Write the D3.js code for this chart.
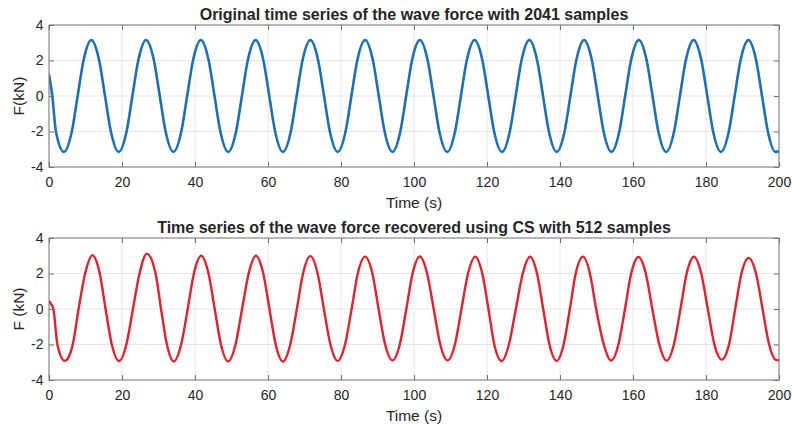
<!doctype html>
<html>
<head>
<meta charset="utf-8">
<title>Wave force time series</title>
<script src="https://d3js.org/d3.v7.min.js"></script>
<style>
  body { margin: 0; background: #fff; }
  text { font-family: "Liberation Sans", Arial, sans-serif; fill: #262626; }
</style>
</head>
<body>
<script>
// values (time in s, force in kN):
// troughs, -2 / 0 / +2 crossings and crests of every cycle
var origTime = [0, 0.9, 1.9,
  4.1, 6.25, 7.85, 9.45, 11.6, 13.75, 15.35, 16.95,
  19.1, 21.25, 22.85, 24.45, 26.6, 28.75, 30.35, 31.95,
  34.1, 36.25, 37.85, 39.45, 41.6, 43.75, 45.35, 46.95,
  49.1, 51.25, 52.85, 54.45, 56.6, 58.75, 60.35, 61.95,
  64.1, 66.25, 67.85, 69.45, 71.6, 73.75, 75.35, 76.95,
  79.1, 81.25, 82.85, 84.45, 86.6, 88.75, 90.35, 91.95,
  94.1, 96.25, 97.85, 99.45, 101.6, 103.75, 105.35, 106.95,
  109.1, 111.25, 112.85, 114.45, 116.6, 118.75, 120.35, 121.95,
  124.1, 126.25, 127.85, 129.45, 131.6, 133.75, 135.35, 136.95,
  139.1, 141.25, 142.85, 144.45, 146.6, 148.75, 150.35, 151.95,
  154.1, 156.25, 157.85, 159.45, 161.6, 163.75, 165.35, 166.95,
  169.1, 171.25, 172.85, 174.45, 176.6, 178.75, 180.35, 181.95,
  184.1, 186.25, 187.85, 189.45, 191.6, 193.75, 195.35, 196.95,
  199.0, 200];
var origForce = [1.22, 0, -2.0,
  -3.15, -2, 0, 2, 3.15, 2, 0, -2,
  -3.15, -2, 0, 2, 3.15, 2, 0, -2,
  -3.15, -2, 0, 2, 3.15, 2, 0, -2,
  -3.15, -2, 0, 2, 3.15, 2, 0, -2,
  -3.15, -2, 0, 2, 3.15, 2, 0, -2,
  -3.15, -2, 0, 2, 3.15, 2, 0, -2,
  -3.15, -2, 0, 2, 3.15, 2, 0, -2,
  -3.15, -2, 0, 2, 3.15, 2, 0, -2,
  -3.15, -2, 0, 2, 3.15, 2, 0, -2,
  -3.15, -2, 0, 2, 3.15, 2, 0, -2,
  -3.15, -2, 0, 2, 3.15, 2, 0, -2,
  -3.15, -2, 0, 2, 3.15, 2, 0, -2,
  -3.15, -2, 0, 2, 3.15, 2, 0, -2,
  -3.15, -3.12];

var csTime = [0, 0.5, 1.2, 2.3,
  4.3, 5.9, 6.5, 8.1, 9.9, 11.9, 13.9, 15.5, 17.2,
  19.2, 21.2, 23.0, 24.8, 26.8, 29.2, 30.7, 32.3,
  34.2, 36.2, 38.0, 39.7, 41.7, 43.7, 45.4, 47.1,
  49.1, 51.1, 52.9, 54.7, 56.7, 58.7, 60.4, 62.1,
  64.1, 66.1, 67.9, 69.6, 71.6, 73.6, 75.3, 77.1,
  79.1, 81.1, 82.9, 84.6, 86.6, 88.6, 90.3, 92.1,
  94.1, 96.1, 97.9, 99.6, 101.6, 103.6, 105.4, 107.2,
  109.2, 111.2, 113.0, 114.8, 116.8, 118.7, 120.4, 122.0,
  124.0, 126.0, 127.9, 129.8, 131.8, 133.7, 135.4, 137.1,
  139.1, 141.0, 142.7, 144.3, 146.3, 148.2, 149.9, 152.0,
  154.0, 156.0, 157.8, 159.5, 161.5, 163.5, 165.3, 167.2,
  169.2, 171.2, 173.0, 174.7, 176.7, 178.7, 180.5, 182.3,
  184.3, 186.3, 188.0, 189.7, 191.7, 193.7, 195.5, 197.3,
  199.3, 200];
var csForce = [0.45, 0.3, 0, -2,
  -2.92, -2.45, -2, 0, 2, 3.03, 2, 0, -2,
  -2.93, -2, 0, 2, 3.12, 2, 0, -2,
  -2.95, -2, 0, 2, 3.0, 2, 0, -2,
  -2.95, -2, 0, 2, 3.0, 2, 0, -2,
  -2.96, -2, 0, 2, 2.98, 2, 0, -2,
  -2.92, -2, 0, 2, 2.95, 2, 0, -2,
  -2.9, -2, 0, 2, 2.96, 2, 0, -2,
  -2.9, -2, 0, 2, 2.95, 2, 0, -2,
  -2.93, -2, 0, 2, 2.94, 2, 0, -2,
  -2.92, -2, 0, 2, 2.95, 2, 0, -2,
  -2.9, -2, 0, 2, 2.93, 2, 0, -2,
  -2.91, -2, 0, 2, 2.94, 2, 0, -2,
  -2.85, -2, 0, 2, 2.88, 2, 0, -2,
  -2.88, -2.87];

var xTicks = [0, 20, 40, 60, 80, 100, 120, 140, 160, 180, 200];
var yTicks = [-4, -2, 0, 2, 4];
var titles = ["Original time series of the wave force with 2041 samples",
  "Time series of the wave force recovered using CS with 512 samples"];
var yLabels = ["F(kN)", "F (kN)"];
var xLabel = "Time (s)";

var W = 792, H = 425;
var left = 49, right = 779, plotH = 142;

var svg = d3.select("body").append("svg").attr("width", W).attr("height", H);

var x = d3.scaleLinear().domain([0, 200]).range([left, right]);

var panels = [
  { top: 25, time: origTime, force: origForce, color: "#1c71b6", width: 2.6, title: titles[0], ylab: yLabels[0] },
  { top: 238, time: csTime, force: csForce, color: "#e1212b", width: 2.4, title: titles[1], ylab: yLabels[1] }
];

panels.forEach(function (p, i) {
  var y = d3.scaleLinear().domain([-4, 4]).range([p.top + plotH, p.top]);
  var g = svg.append("g");

  // grid
  g.selectAll(".vg").data(xTicks).enter().append("line")
    .attr("x1", function (d) { return x(d); }).attr("x2", function (d) { return x(d); })
    .attr("y1", p.top).attr("y2", p.top + plotH)
    .attr("stroke", "#e6e6e6").attr("stroke-width", 1);
  g.selectAll(".hg").data(yTicks).enter().append("line")
    .attr("x1", left).attr("x2", right)
    .attr("y1", function (d) { return y(d); }).attr("y2", function (d) { return y(d); })
    .attr("stroke", "#e6e6e6").attr("stroke-width", 1);

  // the series
  svg.append("clipPath").attr("id", "clip" + i).append("rect")
    .attr("x", left).attr("y", p.top).attr("width", right - left).attr("height", plotH);
  var pts = p.time.map(function (t, k) { return [t, p.force[k]]; });
  var line = d3.line()
    .x(function (d) { return x(d[0]); })
    .y(function (d) { return y(d[1]); })
    .curve(d3.curveMonotoneX);
  g.append("path").datum(pts)
    .attr("clip-path", "url(#clip" + i + ")")
    .attr("d", line)
    .attr("fill", "none")
    .attr("stroke", p.color)
    .attr("stroke-width", p.width)
    .attr("stroke-linejoin", "round");

  // axes, ticks pointing inward
  var axB = g.append("g").attr("transform", "translate(0," + (p.top + plotH) + ")")
    .call(d3.axisBottom(x).tickValues(xTicks).tickSize(-5).tickPadding(10.5));
  var axT = g.append("g").attr("transform", "translate(0," + p.top + ")")
    .call(d3.axisTop(x).tickValues(xTicks).tickSize(-5).tickFormat(""));
  var axL = g.append("g").attr("transform", "translate(" + left + ",0)")
    .call(d3.axisLeft(y).tickValues(yTicks).tickSize(-5).tickPadding(5.5)
      .tickFormat(function (d) { return d < 0 ? "-" + Math.abs(d) : d; }));
  var axR = g.append("g").attr("transform", "translate(" + right + ",0)")
    .call(d3.axisRight(y).tickValues(yTicks).tickSize(-5).tickFormat(""));
  [axB, axT, axL, axR].forEach(function (a) {
    a.select(".domain").remove();
    a.selectAll(".tick line").attr("stroke", "#6e6e6e");
    a.selectAll("text").attr("font-size", 14).attr("font-family", null).attr("fill", "#262626");
  });

  g.append("rect")
    .attr("x", left).attr("y", p.top).attr("width", right - left).attr("height", plotH)
    .attr("fill", "none").attr("stroke", "#7a7a7a").attr("stroke-width", 1);

  // labels
  g.append("text")
    .attr("x", (left + right) / 2).attr("y", p.top - 5)
    .attr("text-anchor", "middle").attr("font-weight", "bold").attr("font-size", 16)
    .text(p.title);
  g.append("text")
    .attr("x", (left + right) / 2).attr("y", p.top + plotH + 40.5)
    .attr("text-anchor", "middle").attr("font-size", 15.5)
    .text(xLabel);
  g.append("text")
    .attr("transform", "translate(24," + (p.top + plotH / 2) + ") rotate(-90)")
    .attr("text-anchor", "middle").attr("font-size", 15.5)
    .text(p.ylab);
});
</script>
</body>
</html>
